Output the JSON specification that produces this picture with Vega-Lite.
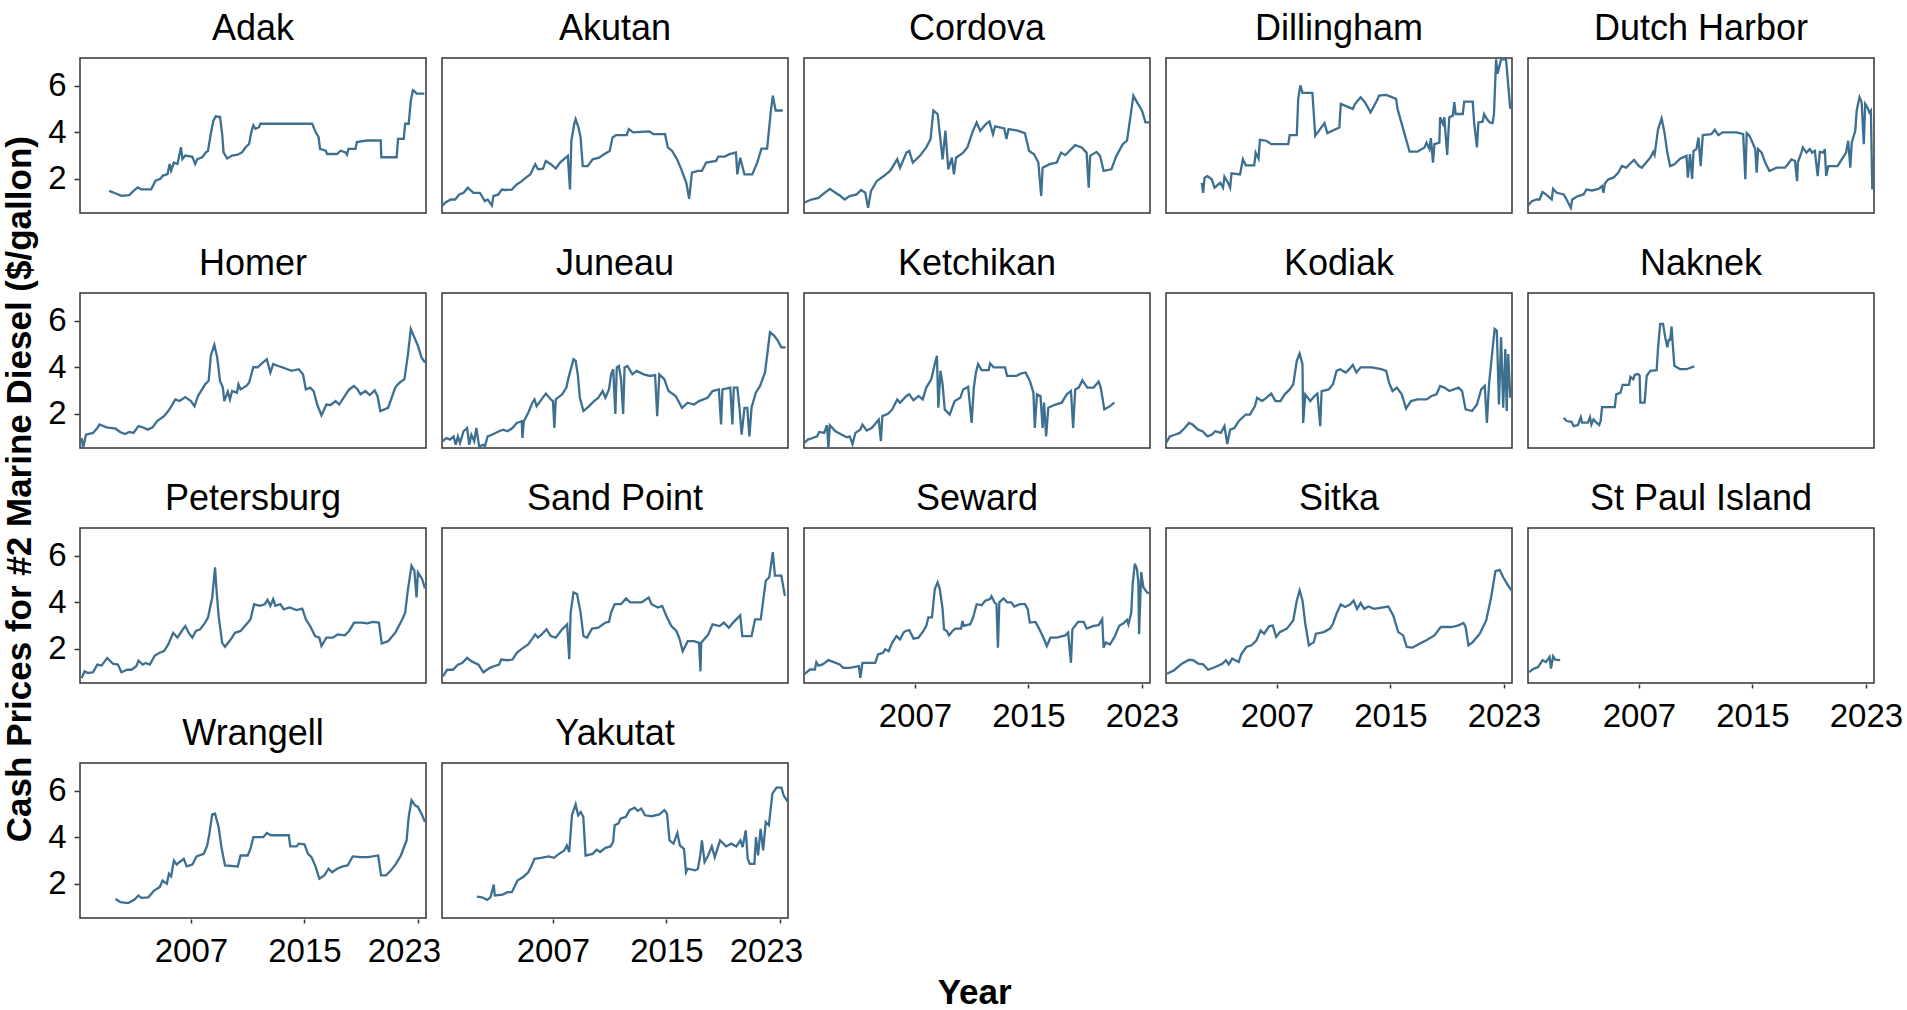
{
"$schema": "https://vega.github.io/schema/vega-lite/v6.json",
"padding": {"left": 2, "top": 10, "right": 0, "bottom": 0},
"background": "white",
"title": {"text": "Year", "orient": "bottom", "anchor": "middle", "font": "Liberation Sans", "fontSize": 35, "fontWeight": "bold", "color": "black", "offset": 8, "dx": 22},
"datasets": {"d": [
{"site":"Adak","year":2001.24,"price":1.48},{"site":"Adak","year":2001.7,"price":1.37},{"site":"Adak","year":2002.1,"price":1.27},{"site":"Adak","year":2002.65,"price":1.3},{"site":"Adak","year":2002.9,"price":1.45},{"site":"Adak","year":2003.25,"price":1.63},{"site":"Adak","year":2003.5,"price":1.55},{"site":"Adak","year":2004.2,"price":1.55},{"site":"Adak","year":2004.5,"price":1.92},{"site":"Adak","year":2004.85,"price":2.0},{"site":"Adak","year":2005.0,"price":2.13},{"site":"Adak","year":2005.35,"price":2.2},{"site":"Adak","year":2005.5,"price":2.64},{"site":"Adak","year":2005.6,"price":2.35},{"site":"Adak","year":2005.8,"price":2.7},{"site":"Adak","year":2006.05,"price":2.64},{"site":"Adak","year":2006.3,"price":3.36},{"site":"Adak","year":2006.4,"price":2.85},{"site":"Adak","year":2006.6,"price":3.0},{"site":"Adak","year":2007.1,"price":2.95},{"site":"Adak","year":2007.3,"price":2.64},{"site":"Adak","year":2007.45,"price":2.85},{"site":"Adak","year":2007.8,"price":2.93},{"site":"Adak","year":2008.05,"price":3.14},{"site":"Adak","year":2008.2,"price":3.2},{"site":"Adak","year":2008.4,"price":3.94},{"site":"Adak","year":2008.58,"price":4.5},{"site":"Adak","year":2008.75,"price":4.69},{"site":"Adak","year":2009.05,"price":4.66},{"site":"Adak","year":2009.2,"price":3.94},{"site":"Adak","year":2009.3,"price":3.14},{"site":"Adak","year":2009.55,"price":2.88},{"site":"Adak","year":2009.9,"price":3.0},{"site":"Adak","year":2010.3,"price":3.04},{"site":"Adak","year":2010.6,"price":3.14},{"site":"Adak","year":2010.85,"price":3.36},{"site":"Adak","year":2011.1,"price":3.5},{"site":"Adak","year":2011.25,"price":4.0},{"site":"Adak","year":2011.4,"price":4.3},{"site":"Adak","year":2011.55,"price":4.15},{"site":"Adak","year":2011.8,"price":4.22},{"site":"Adak","year":2011.9,"price":4.37},{"site":"Adak","year":2013.3,"price":4.37},{"site":"Adak","year":2015.55,"price":4.37},{"site":"Adak","year":2015.8,"price":4.0},{"site":"Adak","year":2016.0,"price":3.79},{"site":"Adak","year":2016.1,"price":3.29},{"site":"Adak","year":2016.5,"price":3.21},{"site":"Adak","year":2016.6,"price":3.07},{"site":"Adak","year":2017.3,"price":3.07},{"site":"Adak","year":2017.55,"price":3.21},{"site":"Adak","year":2017.9,"price":3.14},{"site":"Adak","year":2018.0,"price":3.04},{"site":"Adak","year":2018.1,"price":3.29},{"site":"Adak","year":2018.6,"price":3.29},{"site":"Adak","year":2018.7,"price":3.58},{"site":"Adak","year":2019.4,"price":3.65},{"site":"Adak","year":2020.38,"price":3.65},{"site":"Adak","year":2020.42,"price":2.93},{"site":"Adak","year":2021.5,"price":2.93},{"site":"Adak","year":2021.6,"price":3.72},{"site":"Adak","year":2022.0,"price":3.72},{"site":"Adak","year":2022.1,"price":4.37},{"site":"Adak","year":2022.35,"price":4.37},{"site":"Adak","year":2022.5,"price":5.38},{"site":"Adak","year":2022.65,"price":5.81},{"site":"Adak","year":2022.8,"price":5.74},{"site":"Adak","year":2022.9,"price":5.67},{"site":"Adak","year":2023.45,"price":5.67},
{"site":"Akutan","year":1999.18,"price":0.82},{"site":"Akutan","year":1999.4,"price":0.97},{"site":"Akutan","year":1999.8,"price":1.11},{"site":"Akutan","year":2000.1,"price":1.11},{"site":"Akutan","year":2000.4,"price":1.33},{"site":"Akutan","year":2000.7,"price":1.4},{"site":"Akutan","year":2001.0,"price":1.62},{"site":"Akutan","year":2001.4,"price":1.4},{"site":"Akutan","year":2001.85,"price":1.4},{"site":"Akutan","year":2002.2,"price":1.04},{"site":"Akutan","year":2002.4,"price":1.11},{"site":"Akutan","year":2002.7,"price":0.85},{"site":"Akutan","year":2002.8,"price":1.26},{"site":"Akutan","year":2003.15,"price":1.33},{"site":"Akutan","year":2003.4,"price":1.54},{"site":"Akutan","year":2003.6,"price":1.52},{"site":"Akutan","year":2004.1,"price":1.54},{"site":"Akutan","year":2004.45,"price":1.76},{"site":"Akutan","year":2004.8,"price":1.9},{"site":"Akutan","year":2005.1,"price":2.05},{"site":"Akutan","year":2005.4,"price":2.19},{"site":"Akutan","year":2005.75,"price":2.63},{"site":"Akutan","year":2005.95,"price":2.41},{"site":"Akutan","year":2006.3,"price":2.44},{"site":"Akutan","year":2006.5,"price":2.77},{"site":"Akutan","year":2006.85,"price":2.63},{"site":"Akutan","year":2007.2,"price":2.44},{"site":"Akutan","year":2007.5,"price":2.7},{"site":"Akutan","year":2007.9,"price":2.91},{"site":"Akutan","year":2008.05,"price":2.99},{"site":"Akutan","year":2008.2,"price":1.54},{"site":"Akutan","year":2008.3,"price":3.64},{"site":"Akutan","year":2008.5,"price":4.36},{"site":"Akutan","year":2008.6,"price":4.57},{"site":"Akutan","year":2008.8,"price":4.21},{"site":"Akutan","year":2008.95,"price":3.78},{"site":"Akutan","year":2009.1,"price":2.55},{"site":"Akutan","year":2009.45,"price":2.55},{"site":"Akutan","year":2009.8,"price":2.84},{"site":"Akutan","year":2010.25,"price":2.91},{"site":"Akutan","year":2010.6,"price":3.06},{"site":"Akutan","year":2011.0,"price":3.2},{"site":"Akutan","year":2011.2,"price":3.78},{"site":"Akutan","year":2011.45,"price":3.88},{"site":"Akutan","year":2012.2,"price":3.88},{"site":"Akutan","year":2012.35,"price":4.14},{"site":"Akutan","year":2012.65,"price":4.0},{"site":"Akutan","year":2013.8,"price":4.04},{"site":"Akutan","year":2014.1,"price":3.92},{"site":"Akutan","year":2014.9,"price":3.92},{"site":"Akutan","year":2015.1,"price":3.35},{"site":"Akutan","year":2015.4,"price":3.2},{"site":"Akutan","year":2015.75,"price":2.84},{"site":"Akutan","year":2016.05,"price":2.41},{"site":"Akutan","year":2016.4,"price":1.83},{"site":"Akutan","year":2016.6,"price":1.14},{"site":"Akutan","year":2016.8,"price":2.27},{"site":"Akutan","year":2017.2,"price":2.34},{"site":"Akutan","year":2017.5,"price":2.34},{"site":"Akutan","year":2017.8,"price":2.7},{"site":"Akutan","year":2018.5,"price":2.77},{"site":"Akutan","year":2018.65,"price":2.96},{"site":"Akutan","year":2019.1,"price":2.96},{"site":"Akutan","year":2019.45,"price":3.06},{"site":"Akutan","year":2019.9,"price":3.13},{"site":"Akutan","year":2020.0,"price":2.19},{"site":"Akutan","year":2020.2,"price":2.91},{"site":"Akutan","year":2020.5,"price":2.19},{"site":"Akutan","year":2021.05,"price":2.19},{"site":"Akutan","year":2021.4,"price":2.7},{"site":"Akutan","year":2021.7,"price":3.3},{"site":"Akutan","year":2022.1,"price":3.3},{"site":"Akutan","year":2022.35,"price":4.86},{"site":"Akutan","year":2022.5,"price":5.58},{"site":"Akutan","year":2022.7,"price":4.94},{"site":"Akutan","year":2023.2,"price":4.94},
{"site":"Cordova","year":1999.18,"price":0.97},{"site":"Cordova","year":1999.7,"price":1.11},{"site":"Cordova","year":2000.2,"price":1.18},{"site":"Cordova","year":2000.5,"price":1.33},{"site":"Cordova","year":2001.0,"price":1.57},{"site":"Cordova","year":2001.4,"price":1.4},{"site":"Cordova","year":2001.75,"price":1.26},{"site":"Cordova","year":2002.05,"price":1.11},{"site":"Cordova","year":2002.4,"price":1.26},{"site":"Cordova","year":2002.9,"price":1.33},{"site":"Cordova","year":2003.2,"price":1.52},{"site":"Cordova","year":2003.5,"price":1.4},{"site":"Cordova","year":2003.7,"price":0.75},{"site":"Cordova","year":2003.9,"price":1.47},{"site":"Cordova","year":2004.3,"price":1.9},{"site":"Cordova","year":2004.8,"price":2.12},{"site":"Cordova","year":2005.25,"price":2.34},{"site":"Cordova","year":2005.75,"price":2.84},{"site":"Cordova","year":2005.95,"price":2.48},{"site":"Cordova","year":2006.4,"price":3.13},{"site":"Cordova","year":2006.6,"price":3.2},{"site":"Cordova","year":2006.85,"price":2.7},{"site":"Cordova","year":2007.35,"price":2.99},{"site":"Cordova","year":2007.8,"price":3.35},{"site":"Cordova","year":2008.1,"price":3.71},{"site":"Cordova","year":2008.3,"price":4.94},{"site":"Cordova","year":2008.6,"price":4.79},{"site":"Cordova","year":2008.95,"price":2.84},{"site":"Cordova","year":2009.15,"price":4.07},{"site":"Cordova","year":2009.35,"price":2.41},{"site":"Cordova","year":2009.6,"price":2.91},{"site":"Cordova","year":2009.75,"price":2.19},{"site":"Cordova","year":2009.9,"price":2.91},{"site":"Cordova","year":2010.4,"price":3.13},{"site":"Cordova","year":2010.7,"price":3.35},{"site":"Cordova","year":2011.05,"price":4.0},{"site":"Cordova","year":2011.35,"price":4.43},{"site":"Cordova","year":2011.6,"price":4.07},{"site":"Cordova","year":2012.0,"price":4.36},{"site":"Cordova","year":2012.25,"price":4.47},{"site":"Cordova","year":2012.5,"price":3.92},{"site":"Cordova","year":2012.65,"price":4.26},{"site":"Cordova","year":2013.3,"price":4.17},{"site":"Cordova","year":2013.45,"price":3.71},{"site":"Cordova","year":2013.6,"price":4.14},{"site":"Cordova","year":2014.25,"price":4.07},{"site":"Cordova","year":2014.75,"price":3.97},{"site":"Cordova","year":2015.05,"price":3.2},{"site":"Cordova","year":2015.4,"price":3.06},{"site":"Cordova","year":2015.7,"price":2.7},{"site":"Cordova","year":2015.9,"price":1.26},{"site":"Cordova","year":2016.0,"price":2.48},{"site":"Cordova","year":2016.5,"price":2.63},{"site":"Cordova","year":2017.0,"price":2.7},{"site":"Cordova","year":2017.3,"price":3.13},{"site":"Cordova","year":2017.6,"price":3.02},{"site":"Cordova","year":2018.3,"price":3.45},{"site":"Cordova","year":2018.75,"price":3.35},{"site":"Cordova","year":2019.1,"price":3.13},{"site":"Cordova","year":2019.25,"price":1.62},{"site":"Cordova","year":2019.35,"price":2.99},{"site":"Cordova","year":2019.8,"price":3.16},{"site":"Cordova","year":2020.05,"price":2.99},{"site":"Cordova","year":2020.3,"price":2.34},{"site":"Cordova","year":2020.85,"price":2.41},{"site":"Cordova","year":2021.2,"price":2.99},{"site":"Cordova","year":2021.65,"price":3.49},{"site":"Cordova","year":2021.95,"price":3.64},{"site":"Cordova","year":2022.2,"price":4.72},{"site":"Cordova","year":2022.4,"price":5.58},{"site":"Cordova","year":2022.65,"price":5.3},{"site":"Cordova","year":2023.0,"price":4.94},{"site":"Cordova","year":2023.25,"price":4.43},{"site":"Cordova","year":2023.5,"price":4.43},
{"site":"Dillingham","year":2001.7,"price":1.83},{"site":"Dillingham","year":2001.8,"price":1.4},{"site":"Dillingham","year":2001.9,"price":2.05},{"site":"Dillingham","year":2002.1,"price":2.12},{"site":"Dillingham","year":2002.4,"price":1.98},{"site":"Dillingham","year":2002.6,"price":1.62},{"site":"Dillingham","year":2003.0,"price":1.83},{"site":"Dillingham","year":2003.2,"price":1.62},{"site":"Dillingham","year":2003.3,"price":2.09},{"site":"Dillingham","year":2003.55,"price":1.83},{"site":"Dillingham","year":2003.7,"price":1.62},{"site":"Dillingham","year":2003.8,"price":2.24},{"site":"Dillingham","year":2004.4,"price":2.19},{"site":"Dillingham","year":2004.6,"price":2.84},{"site":"Dillingham","year":2004.8,"price":2.58},{"site":"Dillingham","year":2005.4,"price":2.58},{"site":"Dillingham","year":2005.5,"price":3.13},{"site":"Dillingham","year":2005.7,"price":2.87},{"site":"Dillingham","year":2005.8,"price":3.68},{"site":"Dillingham","year":2006.25,"price":3.64},{"site":"Dillingham","year":2006.6,"price":3.49},{"site":"Dillingham","year":2007.8,"price":3.49},{"site":"Dillingham","year":2007.9,"price":3.88},{"site":"Dillingham","year":2008.4,"price":3.88},{"site":"Dillingham","year":2008.5,"price":5.44},{"site":"Dillingham","year":2008.65,"price":6.02},{"site":"Dillingham","year":2008.8,"price":5.7},{"site":"Dillingham","year":2009.5,"price":5.7},{"site":"Dillingham","year":2009.7,"price":3.85},{"site":"Dillingham","year":2010.35,"price":4.4},{"site":"Dillingham","year":2010.55,"price":3.97},{"site":"Dillingham","year":2011.4,"price":4.21},{"site":"Dillingham","year":2011.5,"price":5.22},{"site":"Dillingham","year":2012.35,"price":5.01},{"site":"Dillingham","year":2012.5,"price":5.22},{"site":"Dillingham","year":2012.9,"price":5.51},{"site":"Dillingham","year":2013.2,"price":5.3},{"site":"Dillingham","year":2013.6,"price":4.86},{"site":"Dillingham","year":2014.05,"price":5.37},{"site":"Dillingham","year":2014.2,"price":5.58},{"site":"Dillingham","year":2014.7,"price":5.61},{"site":"Dillingham","year":2015.4,"price":5.44},{"site":"Dillingham","year":2015.5,"price":5.01},{"site":"Dillingham","year":2016.35,"price":3.17},{"site":"Dillingham","year":2016.9,"price":3.17},{"site":"Dillingham","year":2017.4,"price":3.35},{"site":"Dillingham","year":2017.55,"price":3.56},{"site":"Dillingham","year":2017.75,"price":3.28},{"site":"Dillingham","year":2017.85,"price":3.75},{"site":"Dillingham","year":2018.0,"price":2.7},{"site":"Dillingham","year":2018.1,"price":3.49},{"site":"Dillingham","year":2018.45,"price":3.56},{"site":"Dillingham","year":2018.5,"price":4.65},{"site":"Dillingham","year":2018.7,"price":4.36},{"site":"Dillingham","year":2018.8,"price":4.65},{"site":"Dillingham","year":2019.0,"price":3.03},{"site":"Dillingham","year":2019.15,"price":4.65},{"site":"Dillingham","year":2019.4,"price":4.72},{"site":"Dillingham","year":2019.5,"price":5.3},{"site":"Dillingham","year":2019.6,"price":4.79},{"site":"Dillingham","year":2020.1,"price":4.79},{"site":"Dillingham","year":2020.2,"price":5.32},{"site":"Dillingham","year":2020.8,"price":5.32},{"site":"Dillingham","year":2020.9,"price":4.43},{"site":"Dillingham","year":2021.1,"price":3.35},{"site":"Dillingham","year":2021.2,"price":4.43},{"site":"Dillingham","year":2021.5,"price":4.46},{"site":"Dillingham","year":2021.6,"price":4.79},{"site":"Dillingham","year":2021.8,"price":4.57},{"site":"Dillingham","year":2022.0,"price":4.43},{"site":"Dillingham","year":2022.2,"price":4.4},{"site":"Dillingham","year":2022.3,"price":4.79},{"site":"Dillingham","year":2022.45,"price":7.14},{"site":"Dillingham","year":2022.55,"price":6.52},{"site":"Dillingham","year":2022.8,"price":7.14},{"site":"Dillingham","year":2023.15,"price":7.14},{"site":"Dillingham","year":2023.45,"price":5.01},
{"site":"Dutch Harbor","year":1999.18,"price":0.85},{"site":"Dutch Harbor","year":1999.45,"price":1.04},{"site":"Dutch Harbor","year":1999.8,"price":1.11},{"site":"Dutch Harbor","year":2000.0,"price":1.11},{"site":"Dutch Harbor","year":2000.2,"price":1.43},{"site":"Dutch Harbor","year":2000.45,"price":1.33},{"site":"Dutch Harbor","year":2000.85,"price":1.11},{"site":"Dutch Harbor","year":2000.95,"price":1.57},{"site":"Dutch Harbor","year":2001.2,"price":1.4},{"site":"Dutch Harbor","year":2001.7,"price":1.33},{"site":"Dutch Harbor","year":2001.9,"price":1.11},{"site":"Dutch Harbor","year":2002.2,"price":0.75},{"site":"Dutch Harbor","year":2002.3,"price":1.11},{"site":"Dutch Harbor","year":2002.7,"price":1.26},{"site":"Dutch Harbor","year":2003.1,"price":1.33},{"site":"Dutch Harbor","year":2003.3,"price":1.54},{"site":"Dutch Harbor","year":2003.7,"price":1.5},{"site":"Dutch Harbor","year":2004.15,"price":1.57},{"site":"Dutch Harbor","year":2004.4,"price":1.69},{"site":"Dutch Harbor","year":2004.5,"price":1.4},{"site":"Dutch Harbor","year":2004.6,"price":1.8},{"site":"Dutch Harbor","year":2004.85,"price":1.98},{"site":"Dutch Harbor","year":2005.2,"price":2.05},{"site":"Dutch Harbor","year":2005.55,"price":2.27},{"site":"Dutch Harbor","year":2005.8,"price":2.55},{"site":"Dutch Harbor","year":2006.1,"price":2.48},{"site":"Dutch Harbor","year":2006.4,"price":2.67},{"site":"Dutch Harbor","year":2006.65,"price":2.81},{"site":"Dutch Harbor","year":2007.0,"price":2.55},{"site":"Dutch Harbor","year":2007.2,"price":2.48},{"site":"Dutch Harbor","year":2007.6,"price":2.77},{"site":"Dutch Harbor","year":2007.8,"price":2.91},{"site":"Dutch Harbor","year":2008.0,"price":3.16},{"site":"Dutch Harbor","year":2008.1,"price":3.02},{"site":"Dutch Harbor","year":2008.35,"price":4.14},{"site":"Dutch Harbor","year":2008.6,"price":4.6},{"site":"Dutch Harbor","year":2008.8,"price":4.0},{"site":"Dutch Harbor","year":2009.0,"price":3.13},{"site":"Dutch Harbor","year":2009.2,"price":2.55},{"site":"Dutch Harbor","year":2009.5,"price":2.63},{"site":"Dutch Harbor","year":2009.9,"price":2.87},{"site":"Dutch Harbor","year":2010.35,"price":2.99},{"site":"Dutch Harbor","year":2010.45,"price":2.05},{"site":"Dutch Harbor","year":2010.6,"price":3.06},{"site":"Dutch Harbor","year":2010.75,"price":2.0},{"site":"Dutch Harbor","year":2010.85,"price":3.2},{"site":"Dutch Harbor","year":2011.05,"price":3.28},{"site":"Dutch Harbor","year":2011.2,"price":3.78},{"site":"Dutch Harbor","year":2011.35,"price":2.55},{"site":"Dutch Harbor","year":2011.5,"price":3.88},{"site":"Dutch Harbor","year":2012.1,"price":3.92},{"site":"Dutch Harbor","year":2012.35,"price":4.11},{"site":"Dutch Harbor","year":2012.6,"price":3.88},{"site":"Dutch Harbor","year":2012.9,"price":4.0},{"site":"Dutch Harbor","year":2013.9,"price":4.0},{"site":"Dutch Harbor","year":2014.35,"price":3.92},{"site":"Dutch Harbor","year":2014.5,"price":1.98},{"site":"Dutch Harbor","year":2014.6,"price":3.97},{"site":"Dutch Harbor","year":2014.8,"price":3.85},{"site":"Dutch Harbor","year":2015.2,"price":3.28},{"site":"Dutch Harbor","year":2015.3,"price":2.27},{"site":"Dutch Harbor","year":2015.4,"price":3.28},{"site":"Dutch Harbor","year":2015.65,"price":3.13},{"site":"Dutch Harbor","year":2015.9,"price":2.7},{"site":"Dutch Harbor","year":2016.2,"price":2.34},{"site":"Dutch Harbor","year":2016.7,"price":2.48},{"site":"Dutch Harbor","year":2017.3,"price":2.48},{"site":"Dutch Harbor","year":2017.5,"price":2.63},{"site":"Dutch Harbor","year":2017.75,"price":2.84},{"site":"Dutch Harbor","year":2018.0,"price":2.77},{"site":"Dutch Harbor","year":2018.15,"price":1.9},{"site":"Dutch Harbor","year":2018.2,"price":2.7},{"site":"Dutch Harbor","year":2018.45,"price":3.13},{"site":"Dutch Harbor","year":2018.55,"price":3.35},{"site":"Dutch Harbor","year":2018.8,"price":3.13},{"site":"Dutch Harbor","year":2019.05,"price":3.28},{"site":"Dutch Harbor","year":2019.2,"price":3.13},{"site":"Dutch Harbor","year":2019.4,"price":3.2},{"site":"Dutch Harbor","year":2019.6,"price":2.12},{"site":"Dutch Harbor","year":2019.75,"price":3.16},{"site":"Dutch Harbor","year":2020.0,"price":3.13},{"site":"Dutch Harbor","year":2020.1,"price":3.28},{"site":"Dutch Harbor","year":2020.2,"price":2.12},{"site":"Dutch Harbor","year":2020.35,"price":2.55},{"site":"Dutch Harbor","year":2021.0,"price":2.55},{"site":"Dutch Harbor","year":2021.3,"price":2.84},{"site":"Dutch Harbor","year":2021.6,"price":3.13},{"site":"Dutch Harbor","year":2021.75,"price":3.64},{"site":"Dutch Harbor","year":2021.9,"price":2.48},{"site":"Dutch Harbor","year":2022.0,"price":3.56},{"site":"Dutch Harbor","year":2022.25,"price":4.07},{"site":"Dutch Harbor","year":2022.35,"price":4.94},{"site":"Dutch Harbor","year":2022.55,"price":5.51},{"site":"Dutch Harbor","year":2022.7,"price":5.3},{"site":"Dutch Harbor","year":2022.85,"price":3.49},{"site":"Dutch Harbor","year":2022.95,"price":5.22},{"site":"Dutch Harbor","year":2023.1,"price":5.08},{"site":"Dutch Harbor","year":2023.25,"price":4.86},{"site":"Dutch Harbor","year":2023.35,"price":4.94},{"site":"Dutch Harbor","year":2023.45,"price":1.54},
{"site":"Homer","year":1999.3,"price":0.96},{"site":"Homer","year":1999.4,"price":0.53},{"site":"Homer","year":1999.6,"price":1.1},{"site":"Homer","year":2000.1,"price":1.18},{"site":"Homer","year":2000.4,"price":1.39},{"site":"Homer","year":2000.55,"price":1.54},{"site":"Homer","year":2001.05,"price":1.42},{"site":"Homer","year":2001.7,"price":1.36},{"site":"Homer","year":2002.0,"price":1.22},{"site":"Homer","year":2002.35,"price":1.13},{"site":"Homer","year":2002.65,"price":1.22},{"site":"Homer","year":2002.95,"price":1.18},{"site":"Homer","year":2003.3,"price":1.47},{"site":"Homer","year":2003.6,"price":1.42},{"site":"Homer","year":2003.95,"price":1.32},{"site":"Homer","year":2004.3,"price":1.42},{"site":"Homer","year":2004.6,"price":1.68},{"site":"Homer","year":2005.1,"price":1.9},{"site":"Homer","year":2005.4,"price":2.12},{"site":"Homer","year":2005.55,"price":2.26},{"site":"Homer","year":2005.9,"price":2.62},{"site":"Homer","year":2006.2,"price":2.55},{"site":"Homer","year":2006.6,"price":2.72},{"site":"Homer","year":2007.0,"price":2.55},{"site":"Homer","year":2007.25,"price":2.33},{"site":"Homer","year":2007.5,"price":2.77},{"site":"Homer","year":2008.0,"price":3.27},{"site":"Homer","year":2008.25,"price":3.42},{"site":"Homer","year":2008.4,"price":4.5},{"site":"Homer","year":2008.65,"price":4.97},{"site":"Homer","year":2008.85,"price":4.43},{"site":"Homer","year":2009.05,"price":3.42},{"site":"Homer","year":2009.25,"price":3.13},{"site":"Homer","year":2009.35,"price":2.55},{"site":"Homer","year":2009.6,"price":2.95},{"site":"Homer","year":2009.75,"price":2.62},{"site":"Homer","year":2009.9,"price":2.98},{"site":"Homer","year":2010.25,"price":2.91},{"site":"Homer","year":2010.35,"price":3.27},{"site":"Homer","year":2010.5,"price":3.05},{"site":"Homer","year":2010.9,"price":3.2},{"site":"Homer","year":2011.1,"price":3.34},{"site":"Homer","year":2011.4,"price":4.02},{"site":"Homer","year":2011.7,"price":4.0},{"site":"Homer","year":2012.0,"price":4.17},{"site":"Homer","year":2012.35,"price":4.35},{"site":"Homer","year":2012.6,"price":3.78},{"site":"Homer","year":2012.8,"price":4.14},{"site":"Homer","year":2013.15,"price":4.06},{"site":"Homer","year":2013.45,"price":4.0},{"site":"Homer","year":2013.8,"price":3.92},{"site":"Homer","year":2014.1,"price":3.85},{"site":"Homer","year":2014.6,"price":3.92},{"site":"Homer","year":2014.9,"price":3.7},{"site":"Homer","year":2015.1,"price":3.05},{"site":"Homer","year":2015.4,"price":3.13},{"site":"Homer","year":2015.65,"price":2.98},{"site":"Homer","year":2015.9,"price":2.4},{"site":"Homer","year":2016.2,"price":1.94},{"site":"Homer","year":2016.55,"price":2.4},{"site":"Homer","year":2016.85,"price":2.38},{"site":"Homer","year":2017.2,"price":2.55},{"site":"Homer","year":2017.45,"price":2.4},{"site":"Homer","year":2017.85,"price":2.77},{"site":"Homer","year":2018.15,"price":3.05},{"site":"Homer","year":2018.5,"price":3.2},{"site":"Homer","year":2018.75,"price":3.05},{"site":"Homer","year":2018.95,"price":2.84},{"site":"Homer","year":2019.3,"price":2.98},{"site":"Homer","year":2019.6,"price":2.81},{"site":"Homer","year":2019.95,"price":3.01},{"site":"Homer","year":2020.15,"price":2.77},{"site":"Homer","year":2020.35,"price":2.12},{"site":"Homer","year":2020.9,"price":2.26},{"site":"Homer","year":2021.4,"price":3.13},{"site":"Homer","year":2021.7,"price":3.34},{"site":"Homer","year":2022.05,"price":3.49},{"site":"Homer","year":2022.3,"price":4.57},{"site":"Homer","year":2022.5,"price":5.65},{"site":"Homer","year":2022.75,"price":5.29},{"site":"Homer","year":2023.0,"price":4.93},{"site":"Homer","year":2023.25,"price":4.43},{"site":"Homer","year":2023.5,"price":4.21},
{"site":"Juneau","year":1999.2,"price":0.82},{"site":"Juneau","year":1999.5,"price":0.96},{"site":"Juneau","year":1999.75,"price":0.89},{"site":"Juneau","year":2000.0,"price":1.03},{"site":"Juneau","year":2000.15,"price":0.67},{"site":"Juneau","year":2000.3,"price":1.03},{"site":"Juneau","year":2000.45,"price":0.74},{"site":"Juneau","year":2000.7,"price":1.25},{"site":"Juneau","year":2000.95,"price":1.39},{"site":"Juneau","year":2001.1,"price":0.67},{"site":"Juneau","year":2001.25,"price":1.1},{"site":"Juneau","year":2001.45,"price":0.82},{"site":"Juneau","year":2001.6,"price":1.39},{"site":"Juneau","year":2001.8,"price":0.6},{"site":"Juneau","year":2002.1,"price":0.67},{"site":"Juneau","year":2002.2,"price":0.6},{"site":"Juneau","year":2002.4,"price":1.03},{"site":"Juneau","year":2002.7,"price":1.1},{"site":"Juneau","year":2003.2,"price":1.25},{"site":"Juneau","year":2003.5,"price":1.32},{"site":"Juneau","year":2003.8,"price":1.25},{"site":"Juneau","year":2004.15,"price":1.39},{"site":"Juneau","year":2004.45,"price":1.61},{"site":"Juneau","year":2004.8,"price":1.68},{"site":"Juneau","year":2004.85,"price":0.96},{"site":"Juneau","year":2004.95,"price":1.68},{"site":"Juneau","year":2005.25,"price":2.04},{"site":"Juneau","year":2005.55,"price":2.48},{"site":"Juneau","year":2005.7,"price":2.62},{"site":"Juneau","year":2005.85,"price":2.33},{"site":"Juneau","year":2006.2,"price":2.62},{"site":"Juneau","year":2006.5,"price":2.87},{"site":"Juneau","year":2006.85,"price":2.62},{"site":"Juneau","year":2007.0,"price":2.55},{"site":"Juneau","year":2007.1,"price":1.39},{"site":"Juneau","year":2007.2,"price":2.62},{"site":"Juneau","year":2007.65,"price":2.84},{"site":"Juneau","year":2007.95,"price":3.13},{"site":"Juneau","year":2008.1,"price":3.56},{"site":"Juneau","year":2008.45,"price":4.35},{"site":"Juneau","year":2008.6,"price":4.28},{"site":"Juneau","year":2008.75,"price":3.7},{"site":"Juneau","year":2008.9,"price":2.69},{"site":"Juneau","year":2009.15,"price":2.12},{"site":"Juneau","year":2009.55,"price":2.33},{"site":"Juneau","year":2009.9,"price":2.55},{"site":"Juneau","year":2010.2,"price":2.69},{"site":"Juneau","year":2010.5,"price":2.98},{"site":"Juneau","year":2010.7,"price":2.69},{"site":"Juneau","year":2010.95,"price":3.05},{"site":"Juneau","year":2011.1,"price":3.7},{"site":"Juneau","year":2011.25,"price":3.92},{"site":"Juneau","year":2011.4,"price":2.0},{"site":"Juneau","year":2011.5,"price":4.0},{"site":"Juneau","year":2011.65,"price":4.06},{"site":"Juneau","year":2011.8,"price":3.49},{"site":"Juneau","year":2011.95,"price":2.0},{"site":"Juneau","year":2012.05,"price":4.0},{"site":"Juneau","year":2012.25,"price":4.06},{"site":"Juneau","year":2012.6,"price":3.7},{"site":"Juneau","year":2012.9,"price":3.85},{"site":"Juneau","year":2013.4,"price":3.7},{"site":"Juneau","year":2013.85,"price":3.63},{"site":"Juneau","year":2014.2,"price":3.67},{"site":"Juneau","year":2014.35,"price":1.9},{"site":"Juneau","year":2014.5,"price":3.7},{"site":"Juneau","year":2014.85,"price":3.49},{"site":"Juneau","year":2015.15,"price":2.98},{"site":"Juneau","year":2015.65,"price":2.77},{"site":"Juneau","year":2016.1,"price":2.26},{"site":"Juneau","year":2016.5,"price":2.48},{"site":"Juneau","year":2016.95,"price":2.4},{"site":"Juneau","year":2017.3,"price":2.55},{"site":"Juneau","year":2017.9,"price":2.69},{"site":"Juneau","year":2018.25,"price":2.98},{"site":"Juneau","year":2018.7,"price":3.05},{"site":"Juneau","year":2018.85,"price":1.54},{"site":"Juneau","year":2018.95,"price":3.05},{"site":"Juneau","year":2019.5,"price":3.13},{"site":"Juneau","year":2019.65,"price":1.54},{"site":"Juneau","year":2019.75,"price":3.13},{"site":"Juneau","year":2020.0,"price":3.13},{"site":"Juneau","year":2020.15,"price":2.26},{"site":"Juneau","year":2020.3,"price":1.1},{"site":"Juneau","year":2020.5,"price":2.26},{"site":"Juneau","year":2020.7,"price":2.26},{"site":"Juneau","year":2020.85,"price":1.03},{"site":"Juneau","year":2021.0,"price":2.26},{"site":"Juneau","year":2021.3,"price":2.91},{"site":"Juneau","year":2021.6,"price":3.2},{"site":"Juneau","year":2021.95,"price":3.78},{"site":"Juneau","year":2022.3,"price":5.51},{"site":"Juneau","year":2022.6,"price":5.36},{"site":"Juneau","year":2022.85,"price":5.15},{"site":"Juneau","year":2023.1,"price":4.86},{"site":"Juneau","year":2023.4,"price":4.86},
{"site":"Ketchikan","year":1999.18,"price":0.74},{"site":"Ketchikan","year":1999.45,"price":0.89},{"site":"Ketchikan","year":1999.8,"price":0.96},{"site":"Ketchikan","year":2000.1,"price":1.03},{"site":"Ketchikan","year":2000.25,"price":1.22},{"site":"Ketchikan","year":2000.6,"price":1.18},{"site":"Ketchikan","year":2000.8,"price":1.51},{"site":"Ketchikan","year":2000.9,"price":0.53},{"site":"Ketchikan","year":2001.0,"price":1.51},{"site":"Ketchikan","year":2001.4,"price":1.25},{"site":"Ketchikan","year":2001.85,"price":1.1},{"site":"Ketchikan","year":2002.2,"price":0.99},{"site":"Ketchikan","year":2002.4,"price":1.03},{"site":"Ketchikan","year":2002.6,"price":0.7},{"site":"Ketchikan","year":2002.8,"price":1.18},{"site":"Ketchikan","year":2003.15,"price":1.32},{"site":"Ketchikan","year":2003.3,"price":1.54},{"site":"Ketchikan","year":2003.6,"price":1.28},{"site":"Ketchikan","year":2003.95,"price":1.39},{"site":"Ketchikan","year":2004.45,"price":1.75},{"site":"Ketchikan","year":2004.6,"price":0.82},{"site":"Ketchikan","year":2004.7,"price":1.9},{"site":"Ketchikan","year":2005.1,"price":2.0},{"site":"Ketchikan","year":2005.4,"price":2.19},{"site":"Ketchikan","year":2005.75,"price":2.62},{"site":"Ketchikan","year":2005.95,"price":2.48},{"site":"Ketchikan","year":2006.4,"price":2.77},{"site":"Ketchikan","year":2006.6,"price":2.84},{"site":"Ketchikan","year":2006.9,"price":2.58},{"site":"Ketchikan","year":2007.25,"price":2.77},{"site":"Ketchikan","year":2007.55,"price":2.62},{"site":"Ketchikan","year":2007.8,"price":3.13},{"site":"Ketchikan","year":2008.15,"price":3.49},{"site":"Ketchikan","year":2008.4,"price":4.14},{"site":"Ketchikan","year":2008.55,"price":4.5},{"site":"Ketchikan","year":2008.65,"price":2.26},{"site":"Ketchikan","year":2008.8,"price":3.85},{"site":"Ketchikan","year":2008.95,"price":3.27},{"site":"Ketchikan","year":2009.1,"price":2.19},{"site":"Ketchikan","year":2009.45,"price":1.97},{"site":"Ketchikan","year":2009.8,"price":2.55},{"site":"Ketchikan","year":2010.2,"price":2.69},{"site":"Ketchikan","year":2010.4,"price":3.05},{"site":"Ketchikan","year":2010.75,"price":3.16},{"site":"Ketchikan","year":2011.0,"price":1.61},{"site":"Ketchikan","year":2011.15,"price":3.13},{"site":"Ketchikan","year":2011.3,"price":3.78},{"site":"Ketchikan","year":2011.45,"price":4.14},{"site":"Ketchikan","year":2011.7,"price":3.88},{"site":"Ketchikan","year":2012.2,"price":3.88},{"site":"Ketchikan","year":2012.3,"price":4.17},{"site":"Ketchikan","year":2012.55,"price":4.0},{"site":"Ketchikan","year":2013.35,"price":4.0},{"site":"Ketchikan","year":2013.5,"price":3.63},{"site":"Ketchikan","year":2014.15,"price":3.63},{"site":"Ketchikan","year":2014.45,"price":3.73},{"site":"Ketchikan","year":2014.8,"price":3.78},{"site":"Ketchikan","year":2015.1,"price":3.42},{"site":"Ketchikan","year":2015.35,"price":2.91},{"site":"Ketchikan","year":2015.45,"price":1.39},{"site":"Ketchikan","year":2015.6,"price":2.84},{"site":"Ketchikan","year":2015.85,"price":2.77},{"site":"Ketchikan","year":2016.0,"price":1.39},{"site":"Ketchikan","year":2016.1,"price":2.48},{"site":"Ketchikan","year":2016.25,"price":1.03},{"site":"Ketchikan","year":2016.4,"price":2.26},{"site":"Ketchikan","year":2016.9,"price":2.4},{"site":"Ketchikan","year":2017.35,"price":2.48},{"site":"Ketchikan","year":2017.7,"price":2.84},{"site":"Ketchikan","year":2018.0,"price":2.98},{"site":"Ketchikan","year":2018.15,"price":1.39},{"site":"Ketchikan","year":2018.3,"price":3.05},{"site":"Ketchikan","year":2018.55,"price":3.13},{"site":"Ketchikan","year":2018.8,"price":3.44},{"site":"Ketchikan","year":2019.15,"price":3.13},{"site":"Ketchikan","year":2019.6,"price":3.13},{"site":"Ketchikan","year":2019.95,"price":3.39},{"site":"Ketchikan","year":2020.1,"price":3.13},{"site":"Ketchikan","year":2020.35,"price":2.19},{"site":"Ketchikan","year":2020.75,"price":2.33},{"site":"Ketchikan","year":2021.05,"price":2.48},
{"site":"Kodiak","year":1999.18,"price":0.74},{"site":"Kodiak","year":1999.45,"price":1.03},{"site":"Kodiak","year":1999.8,"price":1.1},{"site":"Kodiak","year":2000.15,"price":1.18},{"site":"Kodiak","year":2000.5,"price":1.39},{"site":"Kodiak","year":2000.8,"price":1.61},{"site":"Kodiak","year":2001.05,"price":1.54},{"site":"Kodiak","year":2001.45,"price":1.32},{"site":"Kodiak","year":2001.75,"price":1.25},{"site":"Kodiak","year":2002.1,"price":1.03},{"site":"Kodiak","year":2002.4,"price":1.1},{"site":"Kodiak","year":2002.65,"price":1.25},{"site":"Kodiak","year":2003.05,"price":1.18},{"site":"Kodiak","year":2003.3,"price":1.47},{"site":"Kodiak","year":2003.5,"price":0.7},{"site":"Kodiak","year":2003.7,"price":1.32},{"site":"Kodiak","year":2004.0,"price":1.39},{"site":"Kodiak","year":2004.3,"price":1.68},{"site":"Kodiak","year":2004.8,"price":1.97},{"site":"Kodiak","year":2005.1,"price":1.97},{"site":"Kodiak","year":2005.45,"price":2.33},{"site":"Kodiak","year":2005.6,"price":2.69},{"site":"Kodiak","year":2005.95,"price":2.55},{"site":"Kodiak","year":2006.25,"price":2.69},{"site":"Kodiak","year":2006.6,"price":2.87},{"site":"Kodiak","year":2006.9,"price":2.55},{"site":"Kodiak","year":2007.25,"price":2.55},{"site":"Kodiak","year":2007.55,"price":2.84},{"site":"Kodiak","year":2007.9,"price":3.05},{"site":"Kodiak","year":2008.15,"price":3.27},{"site":"Kodiak","year":2008.4,"price":4.28},{"site":"Kodiak","year":2008.6,"price":4.6},{"site":"Kodiak","year":2008.8,"price":4.14},{"site":"Kodiak","year":2008.85,"price":1.61},{"site":"Kodiak","year":2009.0,"price":2.84},{"site":"Kodiak","year":2009.35,"price":2.55},{"site":"Kodiak","year":2009.65,"price":2.77},{"site":"Kodiak","year":2009.85,"price":2.87},{"site":"Kodiak","year":2010.05,"price":1.47},{"site":"Kodiak","year":2010.15,"price":2.98},{"site":"Kodiak","year":2010.65,"price":3.05},{"site":"Kodiak","year":2010.95,"price":3.27},{"site":"Kodiak","year":2011.2,"price":3.85},{"site":"Kodiak","year":2011.45,"price":3.92},{"site":"Kodiak","year":2011.85,"price":3.78},{"site":"Kodiak","year":2012.1,"price":3.92},{"site":"Kodiak","year":2012.35,"price":4.11},{"site":"Kodiak","year":2012.6,"price":3.78},{"site":"Kodiak","year":2012.9,"price":4.0},{"site":"Kodiak","year":2013.7,"price":4.0},{"site":"Kodiak","year":2014.35,"price":3.92},{"site":"Kodiak","year":2014.7,"price":3.85},{"site":"Kodiak","year":2014.9,"price":3.34},{"site":"Kodiak","year":2015.15,"price":2.98},{"site":"Kodiak","year":2015.45,"price":3.13},{"site":"Kodiak","year":2015.8,"price":2.84},{"site":"Kodiak","year":2016.1,"price":2.23},{"site":"Kodiak","year":2016.45,"price":2.55},{"site":"Kodiak","year":2016.9,"price":2.62},{"site":"Kodiak","year":2017.55,"price":2.62},{"site":"Kodiak","year":2017.9,"price":2.77},{"site":"Kodiak","year":2018.25,"price":2.84},{"site":"Kodiak","year":2018.5,"price":3.2},{"site":"Kodiak","year":2018.8,"price":3.13},{"site":"Kodiak","year":2019.15,"price":2.98},{"site":"Kodiak","year":2019.8,"price":3.13},{"site":"Kodiak","year":2020.05,"price":2.98},{"site":"Kodiak","year":2020.3,"price":2.19},{"site":"Kodiak","year":2020.75,"price":2.12},{"site":"Kodiak","year":2021.1,"price":2.4},{"site":"Kodiak","year":2021.4,"price":3.05},{"site":"Kodiak","year":2021.65,"price":3.2},{"site":"Kodiak","year":2021.8,"price":1.61},{"site":"Kodiak","year":2021.95,"price":3.27},{"site":"Kodiak","year":2022.2,"price":4.79},{"site":"Kodiak","year":2022.35,"price":5.65},{"site":"Kodiak","year":2022.5,"price":5.58},{"site":"Kodiak","year":2022.65,"price":2.4},{"site":"Kodiak","year":2022.8,"price":5.29},{"site":"Kodiak","year":2022.95,"price":2.26},{"site":"Kodiak","year":2023.1,"price":4.79},{"site":"Kodiak","year":2023.2,"price":2.12},{"site":"Kodiak","year":2023.3,"price":4.57},{"site":"Kodiak","year":2023.45,"price":2.69},
{"site":"Naknek","year":2001.7,"price":1.83},{"site":"Naknek","year":2001.9,"price":1.69},{"site":"Naknek","year":2002.25,"price":1.66},{"site":"Naknek","year":2002.4,"price":1.47},{"site":"Naknek","year":2002.7,"price":1.52},{"site":"Naknek","year":2002.9,"price":1.86},{"site":"Naknek","year":2003.0,"price":1.62},{"site":"Naknek","year":2003.4,"price":1.62},{"site":"Naknek","year":2003.55,"price":1.86},{"site":"Naknek","year":2003.65,"price":1.54},{"site":"Naknek","year":2003.8,"price":1.76},{"site":"Naknek","year":2004.0,"price":1.62},{"site":"Naknek","year":2004.2,"price":1.52},{"site":"Naknek","year":2004.3,"price":1.69},{"site":"Naknek","year":2004.4,"price":2.29},{"site":"Naknek","year":2005.3,"price":2.29},{"site":"Naknek","year":2005.4,"price":2.84},{"site":"Naknek","year":2005.7,"price":2.91},{"site":"Naknek","year":2005.85,"price":3.25},{"site":"Naknek","year":2006.3,"price":3.25},{"site":"Naknek","year":2006.4,"price":3.59},{"site":"Naknek","year":2006.6,"price":3.49},{"site":"Naknek","year":2006.7,"price":3.68},{"site":"Naknek","year":2006.95,"price":3.71},{"site":"Naknek","year":2007.05,"price":3.64},{"site":"Naknek","year":2007.1,"price":2.48},{"site":"Naknek","year":2007.4,"price":2.48},{"site":"Naknek","year":2007.55,"price":3.64},{"site":"Naknek","year":2007.8,"price":3.85},{"site":"Naknek","year":2008.25,"price":3.88},{"site":"Naknek","year":2008.35,"price":4.86},{"site":"Naknek","year":2008.5,"price":5.87},{"site":"Naknek","year":2008.7,"price":5.87},{"site":"Naknek","year":2008.85,"price":5.3},{"site":"Naknek","year":2009.0,"price":4.86},{"site":"Naknek","year":2009.1,"price":5.18},{"site":"Naknek","year":2009.2,"price":5.18},{"site":"Naknek","year":2009.3,"price":5.76},{"site":"Naknek","year":2009.4,"price":4.86},{"site":"Naknek","year":2009.5,"price":4.07},{"site":"Naknek","year":2009.9,"price":3.92},{"site":"Naknek","year":2010.35,"price":3.92},{"site":"Naknek","year":2010.9,"price":4.04},
{"site":"Petersburg","year":1999.3,"price":0.74},{"site":"Petersburg","year":1999.5,"price":1.03},{"site":"Petersburg","year":1999.75,"price":0.96},{"site":"Petersburg","year":2000.1,"price":0.99},{"site":"Petersburg","year":2000.4,"price":1.32},{"site":"Petersburg","year":2000.7,"price":1.28},{"site":"Petersburg","year":2001.1,"price":1.61},{"site":"Petersburg","year":2001.5,"price":1.36},{"site":"Petersburg","year":2001.85,"price":1.32},{"site":"Petersburg","year":2002.1,"price":0.99},{"site":"Petersburg","year":2002.5,"price":1.1},{"site":"Petersburg","year":2002.8,"price":1.1},{"site":"Petersburg","year":2003.15,"price":1.25},{"site":"Petersburg","year":2003.3,"price":1.49},{"site":"Petersburg","year":2003.6,"price":1.32},{"site":"Petersburg","year":2003.8,"price":1.39},{"site":"Petersburg","year":2004.1,"price":1.32},{"site":"Petersburg","year":2004.45,"price":1.71},{"site":"Petersburg","year":2004.8,"price":1.83},{"site":"Petersburg","year":2005.1,"price":1.9},{"site":"Petersburg","year":2005.4,"price":2.19},{"site":"Petersburg","year":2005.75,"price":2.69},{"site":"Petersburg","year":2006.05,"price":2.48},{"site":"Petersburg","year":2006.4,"price":2.81},{"site":"Petersburg","year":2006.6,"price":2.98},{"site":"Petersburg","year":2006.85,"price":2.69},{"site":"Petersburg","year":2007.1,"price":2.48},{"site":"Petersburg","year":2007.35,"price":2.77},{"site":"Petersburg","year":2007.65,"price":2.84},{"site":"Petersburg","year":2008.0,"price":3.13},{"site":"Petersburg","year":2008.2,"price":3.34},{"site":"Petersburg","year":2008.5,"price":4.21},{"site":"Petersburg","year":2008.7,"price":5.51},{"site":"Petersburg","year":2008.8,"price":4.57},{"site":"Petersburg","year":2008.95,"price":3.42},{"site":"Petersburg","year":2009.2,"price":2.26},{"site":"Petersburg","year":2009.4,"price":2.09},{"site":"Petersburg","year":2009.8,"price":2.4},{"site":"Petersburg","year":2010.1,"price":2.69},{"site":"Petersburg","year":2010.5,"price":2.77},{"site":"Petersburg","year":2010.8,"price":2.98},{"site":"Petersburg","year":2011.05,"price":3.16},{"site":"Petersburg","year":2011.2,"price":3.27},{"site":"Petersburg","year":2011.45,"price":3.92},{"site":"Petersburg","year":2011.85,"price":3.85},{"site":"Petersburg","year":2012.2,"price":3.92},{"site":"Petersburg","year":2012.4,"price":4.11},{"site":"Petersburg","year":2012.6,"price":3.85},{"site":"Petersburg","year":2012.8,"price":4.14},{"site":"Petersburg","year":2012.95,"price":3.85},{"site":"Petersburg","year":2013.3,"price":3.92},{"site":"Petersburg","year":2013.55,"price":3.7},{"site":"Petersburg","year":2013.95,"price":3.78},{"site":"Petersburg","year":2014.45,"price":3.67},{"site":"Petersburg","year":2014.85,"price":3.73},{"site":"Petersburg","year":2015.1,"price":3.27},{"site":"Petersburg","year":2015.4,"price":2.98},{"site":"Petersburg","year":2015.75,"price":2.55},{"site":"Petersburg","year":2016.05,"price":2.48},{"site":"Petersburg","year":2016.2,"price":2.12},{"site":"Petersburg","year":2016.55,"price":2.48},{"site":"Petersburg","year":2017.0,"price":2.48},{"site":"Petersburg","year":2017.35,"price":2.62},{"site":"Petersburg","year":2017.85,"price":2.58},{"site":"Petersburg","year":2018.15,"price":2.77},{"site":"Petersburg","year":2018.5,"price":3.13},{"site":"Petersburg","year":2019.0,"price":3.13},{"site":"Petersburg","year":2019.45,"price":3.1},{"site":"Petersburg","year":2019.8,"price":3.16},{"site":"Petersburg","year":2020.25,"price":3.13},{"site":"Petersburg","year":2020.45,"price":2.23},{"site":"Petersburg","year":2020.9,"price":2.33},{"site":"Petersburg","year":2021.4,"price":2.69},{"site":"Petersburg","year":2021.9,"price":3.27},{"site":"Petersburg","year":2022.1,"price":3.56},{"site":"Petersburg","year":2022.3,"price":4.57},{"site":"Petersburg","year":2022.55,"price":5.58},{"site":"Petersburg","year":2022.75,"price":5.36},{"site":"Petersburg","year":2022.9,"price":4.21},{"site":"Petersburg","year":2023.0,"price":5.29},{"site":"Petersburg","year":2023.3,"price":5.0},{"site":"Petersburg","year":2023.5,"price":4.6},
{"site":"Sand Point","year":1999.24,"price":0.82},{"site":"Sand Point","year":1999.55,"price":1.1},{"site":"Sand Point","year":1999.95,"price":1.1},{"site":"Sand Point","year":2000.3,"price":1.32},{"site":"Sand Point","year":2000.6,"price":1.39},{"site":"Sand Point","year":2000.95,"price":1.61},{"site":"Sand Point","year":2001.25,"price":1.47},{"site":"Sand Point","year":2001.75,"price":1.32},{"site":"Sand Point","year":2002.1,"price":0.99},{"site":"Sand Point","year":2002.55,"price":1.18},{"site":"Sand Point","year":2002.85,"price":1.25},{"site":"Sand Point","year":2003.2,"price":1.32},{"site":"Sand Point","year":2003.35,"price":1.54},{"site":"Sand Point","year":2003.8,"price":1.51},{"site":"Sand Point","year":2004.15,"price":1.54},{"site":"Sand Point","year":2004.45,"price":1.83},{"site":"Sand Point","year":2004.8,"price":2.0},{"site":"Sand Point","year":2005.25,"price":2.19},{"site":"Sand Point","year":2005.6,"price":2.48},{"site":"Sand Point","year":2005.75,"price":2.62},{"site":"Sand Point","year":2005.95,"price":2.48},{"site":"Sand Point","year":2006.2,"price":2.62},{"site":"Sand Point","year":2006.55,"price":2.84},{"site":"Sand Point","year":2006.85,"price":2.55},{"site":"Sand Point","year":2007.2,"price":2.48},{"site":"Sand Point","year":2007.65,"price":2.84},{"site":"Sand Point","year":2008.0,"price":3.05},{"site":"Sand Point","year":2008.15,"price":1.56},{"site":"Sand Point","year":2008.25,"price":3.56},{"site":"Sand Point","year":2008.45,"price":4.43},{"site":"Sand Point","year":2008.7,"price":4.36},{"site":"Sand Point","year":2008.95,"price":3.56},{"site":"Sand Point","year":2009.15,"price":2.55},{"site":"Sand Point","year":2009.4,"price":2.48},{"site":"Sand Point","year":2009.75,"price":2.87},{"site":"Sand Point","year":2010.2,"price":2.91},{"site":"Sand Point","year":2010.7,"price":3.13},{"site":"Sand Point","year":2010.95,"price":3.16},{"site":"Sand Point","year":2011.1,"price":3.56},{"site":"Sand Point","year":2011.35,"price":3.92},{"site":"Sand Point","year":2011.8,"price":3.92},{"site":"Sand Point","year":2012.15,"price":4.17},{"site":"Sand Point","year":2012.45,"price":4.0},{"site":"Sand Point","year":2013.25,"price":4.0},{"site":"Sand Point","year":2013.75,"price":4.21},{"site":"Sand Point","year":2013.95,"price":3.92},{"site":"Sand Point","year":2014.4,"price":3.78},{"site":"Sand Point","year":2014.7,"price":3.85},{"site":"Sand Point","year":2015.05,"price":3.34},{"site":"Sand Point","year":2015.35,"price":2.98},{"site":"Sand Point","year":2015.7,"price":2.77},{"site":"Sand Point","year":2015.9,"price":2.48},{"site":"Sand Point","year":2016.15,"price":1.9},{"site":"Sand Point","year":2016.5,"price":2.33},{"site":"Sand Point","year":2016.95,"price":2.33},{"site":"Sand Point","year":2017.3,"price":2.26},{"site":"Sand Point","year":2017.4,"price":1.03},{"site":"Sand Point","year":2017.45,"price":2.26},{"site":"Sand Point","year":2017.95,"price":2.62},{"site":"Sand Point","year":2018.25,"price":3.05},{"site":"Sand Point","year":2018.75,"price":2.98},{"site":"Sand Point","year":2019.05,"price":3.13},{"site":"Sand Point","year":2019.4,"price":2.91},{"site":"Sand Point","year":2019.7,"price":3.13},{"site":"Sand Point","year":2020.2,"price":3.44},{"site":"Sand Point","year":2020.35,"price":2.55},{"site":"Sand Point","year":2021.0,"price":2.55},{"site":"Sand Point","year":2021.25,"price":3.27},{"site":"Sand Point","year":2021.65,"price":3.27},{"site":"Sand Point","year":2022.0,"price":4.93},{"site":"Sand Point","year":2022.25,"price":5.08},{"site":"Sand Point","year":2022.5,"price":6.16},{"site":"Sand Point","year":2022.65,"price":5.15},{"site":"Sand Point","year":2023.1,"price":5.15},{"site":"Sand Point","year":2023.35,"price":4.28},
{"site":"Seward","year":1999.16,"price":0.89},{"site":"Seward","year":1999.6,"price":1.11},{"site":"Seward","year":1999.95,"price":1.11},{"site":"Seward","year":2000.05,"price":1.43},{"site":"Seward","year":2000.2,"price":1.28},{"site":"Seward","year":2000.5,"price":1.33},{"site":"Seward","year":2000.9,"price":1.52},{"site":"Seward","year":2001.1,"price":1.47},{"site":"Seward","year":2001.7,"price":1.33},{"site":"Seward","year":2001.95,"price":1.18},{"site":"Seward","year":2002.4,"price":1.18},{"site":"Seward","year":2003.05,"price":1.26},{"site":"Seward","year":2003.15,"price":0.75},{"site":"Seward","year":2003.3,"price":1.4},{"site":"Seward","year":2004.2,"price":1.4},{"site":"Seward","year":2004.4,"price":1.76},{"site":"Seward","year":2004.75,"price":1.83},{"site":"Seward","year":2004.9,"price":1.98},{"site":"Seward","year":2005.15,"price":1.9},{"site":"Seward","year":2005.4,"price":2.27},{"site":"Seward","year":2005.7,"price":2.55},{"site":"Seward","year":2005.95,"price":2.41},{"site":"Seward","year":2006.2,"price":2.7},{"site":"Seward","year":2006.35,"price":2.77},{"site":"Seward","year":2006.6,"price":2.81},{"site":"Seward","year":2006.9,"price":2.44},{"site":"Seward","year":2007.25,"price":2.48},{"site":"Seward","year":2007.6,"price":2.77},{"site":"Seward","year":2007.8,"price":2.99},{"site":"Seward","year":2007.95,"price":3.35},{"site":"Seward","year":2008.2,"price":3.35},{"site":"Seward","year":2008.4,"price":4.57},{"site":"Seward","year":2008.6,"price":4.86},{"site":"Seward","year":2008.75,"price":4.57},{"site":"Seward","year":2008.95,"price":3.71},{"site":"Seward","year":2009.05,"price":2.84},{"site":"Seward","year":2009.25,"price":2.77},{"site":"Seward","year":2009.4,"price":2.58},{"site":"Seward","year":2009.65,"price":2.77},{"site":"Seward","year":2009.85,"price":2.87},{"site":"Seward","year":2010.25,"price":2.87},{"site":"Seward","year":2010.35,"price":3.2},{"site":"Seward","year":2010.45,"price":2.99},{"site":"Seward","year":2010.9,"price":3.06},{"site":"Seward","year":2011.1,"price":3.35},{"site":"Seward","year":2011.35,"price":3.92},{"site":"Seward","year":2011.7,"price":3.88},{"site":"Seward","year":2011.95,"price":4.07},{"site":"Seward","year":2012.3,"price":4.14},{"site":"Seward","year":2012.4,"price":4.26},{"site":"Seward","year":2012.6,"price":4.0},{"site":"Seward","year":2012.75,"price":3.92},{"site":"Seward","year":2012.85,"price":2.05},{"site":"Seward","year":2012.95,"price":4.0},{"site":"Seward","year":2013.25,"price":4.17},{"site":"Seward","year":2013.5,"price":4.0},{"site":"Seward","year":2013.8,"price":4.0},{"site":"Seward","year":2014.0,"price":3.82},{"site":"Seward","year":2014.4,"price":3.92},{"site":"Seward","year":2014.75,"price":3.92},{"site":"Seward","year":2014.95,"price":3.71},{"site":"Seward","year":2015.1,"price":3.13},{"site":"Seward","year":2015.5,"price":3.16},{"site":"Seward","year":2015.75,"price":2.87},{"site":"Seward","year":2016.0,"price":2.55},{"site":"Seward","year":2016.3,"price":2.12},{"site":"Seward","year":2016.55,"price":2.48},{"site":"Seward","year":2017.0,"price":2.48},{"site":"Seward","year":2017.6,"price":2.58},{"site":"Seward","year":2017.8,"price":2.7},{"site":"Seward","year":2018.0,"price":1.4},{"site":"Seward","year":2018.1,"price":2.84},{"site":"Seward","year":2018.5,"price":3.16},{"site":"Seward","year":2018.9,"price":3.16},{"site":"Seward","year":2019.1,"price":2.87},{"site":"Seward","year":2019.6,"price":2.99},{"site":"Seward","year":2019.95,"price":3.02},{"site":"Seward","year":2020.2,"price":3.28},{"site":"Seward","year":2020.3,"price":2.05},{"site":"Seward","year":2020.45,"price":2.27},{"site":"Seward","year":2020.75,"price":2.19},{"site":"Seward","year":2021.1,"price":2.55},{"site":"Seward","year":2021.4,"price":2.99},{"site":"Seward","year":2021.7,"price":3.1},{"site":"Seward","year":2021.95,"price":3.25},{"site":"Seward","year":2022.05,"price":3.06},{"site":"Seward","year":2022.25,"price":3.56},{"site":"Seward","year":2022.35,"price":4.79},{"site":"Seward","year":2022.5,"price":5.66},{"site":"Seward","year":2022.65,"price":5.44},{"site":"Seward","year":2022.75,"price":4.86},{"site":"Seward","year":2022.8,"price":2.63},{"site":"Seward","year":2022.95,"price":5.3},{"site":"Seward","year":2023.1,"price":4.65},{"site":"Seward","year":2023.35,"price":4.43},{"site":"Seward","year":2023.5,"price":4.4},
{"site":"Sitka","year":1999.25,"price":0.93},{"site":"Sitka","year":1999.75,"price":1.08},{"site":"Sitka","year":2000.3,"price":1.36},{"site":"Sitka","year":2000.8,"price":1.53},{"site":"Sitka","year":2001.1,"price":1.51},{"site":"Sitka","year":2001.45,"price":1.36},{"site":"Sitka","year":2001.8,"price":1.33},{"site":"Sitka","year":2002.15,"price":1.1},{"site":"Sitka","year":2002.65,"price":1.22},{"site":"Sitka","year":2003.15,"price":1.36},{"site":"Sitka","year":2003.4,"price":1.51},{"site":"Sitka","year":2003.6,"price":1.33},{"site":"Sitka","year":2003.85,"price":1.58},{"site":"Sitka","year":2004.3,"price":1.43},{"site":"Sitka","year":2004.5,"price":1.79},{"site":"Sitka","year":2004.85,"price":2.08},{"site":"Sitka","year":2005.2,"price":2.15},{"site":"Sitka","year":2005.55,"price":2.36},{"site":"Sitka","year":2005.85,"price":2.79},{"site":"Sitka","year":2006.1,"price":2.65},{"site":"Sitka","year":2006.45,"price":2.97},{"site":"Sitka","year":2006.7,"price":3.01},{"site":"Sitka","year":2006.95,"price":2.51},{"site":"Sitka","year":2007.2,"price":2.72},{"site":"Sitka","year":2007.7,"price":2.87},{"site":"Sitka","year":2008.15,"price":3.22},{"site":"Sitka","year":2008.4,"price":4.08},{"site":"Sitka","year":2008.6,"price":4.51},{"site":"Sitka","year":2008.8,"price":4.08},{"site":"Sitka","year":2009.0,"price":3.08},{"site":"Sitka","year":2009.25,"price":2.15},{"site":"Sitka","year":2009.6,"price":2.29},{"site":"Sitka","year":2009.75,"price":2.65},{"site":"Sitka","year":2010.3,"price":2.72},{"site":"Sitka","year":2010.75,"price":2.87},{"site":"Sitka","year":2010.95,"price":3.08},{"site":"Sitka","year":2011.2,"price":3.51},{"site":"Sitka","year":2011.5,"price":3.91},{"site":"Sitka","year":2011.8,"price":3.8},{"site":"Sitka","year":2012.15,"price":3.91},{"site":"Sitka","year":2012.4,"price":4.08},{"site":"Sitka","year":2012.65,"price":3.72},{"site":"Sitka","year":2012.9,"price":3.97},{"site":"Sitka","year":2013.15,"price":3.72},{"site":"Sitka","year":2013.45,"price":3.82},{"site":"Sitka","year":2013.85,"price":3.72},{"site":"Sitka","year":2014.85,"price":3.82},{"site":"Sitka","year":2015.2,"price":3.44},{"site":"Sitka","year":2015.55,"price":2.72},{"site":"Sitka","year":2015.9,"price":2.58},{"site":"Sitka","year":2016.15,"price":2.08},{"site":"Sitka","year":2016.55,"price":2.05},{"site":"Sitka","year":2017.05,"price":2.22},{"site":"Sitka","year":2017.6,"price":2.39},{"site":"Sitka","year":2018.1,"price":2.58},{"site":"Sitka","year":2018.55,"price":2.94},{"site":"Sitka","year":2019.3,"price":2.94},{"site":"Sitka","year":2019.8,"price":3.01},{"site":"Sitka","year":2020.15,"price":3.11},{"site":"Sitka","year":2020.3,"price":2.94},{"site":"Sitka","year":2020.5,"price":2.15},{"site":"Sitka","year":2020.8,"price":2.29},{"site":"Sitka","year":2021.3,"price":2.65},{"site":"Sitka","year":2021.75,"price":3.22},{"site":"Sitka","year":2022.1,"price":4.22},{"site":"Sitka","year":2022.4,"price":5.34},{"site":"Sitka","year":2022.7,"price":5.4},{"site":"Sitka","year":2022.95,"price":5.08},{"site":"Sitka","year":2023.3,"price":4.72},{"site":"Sitka","year":2023.55,"price":4.51},
{"site":"St Paul Island","year":1999.25,"price":1.0},{"site":"St Paul Island","year":1999.6,"price":1.15},{"site":"St Paul Island","year":1999.9,"price":1.22},{"site":"St Paul Island","year":2000.2,"price":1.51},{"site":"St Paul Island","year":2000.45,"price":1.43},{"site":"St Paul Island","year":2000.7,"price":1.65},{"site":"St Paul Island","year":2000.8,"price":1.15},{"site":"St Paul Island","year":2000.95,"price":1.68},{"site":"St Paul Island","year":2001.1,"price":1.53},{"site":"St Paul Island","year":2001.45,"price":1.51},
{"site":"Wrangell","year":2001.68,"price":1.35},{"site":"Wrangell","year":2002.04,"price":1.21},{"site":"Wrangell","year":2002.58,"price":1.17},{"site":"Wrangell","year":2003.0,"price":1.31},{"site":"Wrangell","year":2003.3,"price":1.5},{"site":"Wrangell","year":2003.5,"price":1.4},{"site":"Wrangell","year":2004.0,"price":1.42},{"site":"Wrangell","year":2004.4,"price":1.71},{"site":"Wrangell","year":2004.8,"price":1.86},{"site":"Wrangell","year":2005.0,"price":2.14},{"site":"Wrangell","year":2005.3,"price":2.0},{"site":"Wrangell","year":2005.45,"price":2.43},{"site":"Wrangell","year":2005.6,"price":2.32},{"site":"Wrangell","year":2005.8,"price":3.0},{"site":"Wrangell","year":2006.0,"price":2.83},{"site":"Wrangell","year":2006.2,"price":2.94},{"site":"Wrangell","year":2006.5,"price":3.08},{"site":"Wrangell","year":2006.7,"price":2.75},{"site":"Wrangell","year":2007.1,"price":2.83},{"site":"Wrangell","year":2007.4,"price":3.18},{"site":"Wrangell","year":2007.9,"price":3.29},{"site":"Wrangell","year":2008.15,"price":3.65},{"site":"Wrangell","year":2008.3,"price":4.16},{"site":"Wrangell","year":2008.5,"price":4.99},{"site":"Wrangell","year":2008.7,"price":5.02},{"site":"Wrangell","year":2008.95,"price":4.45},{"site":"Wrangell","year":2009.15,"price":3.58},{"site":"Wrangell","year":2009.4,"price":2.79},{"site":"Wrangell","year":2010.3,"price":2.75},{"site":"Wrangell","year":2010.5,"price":3.22},{"site":"Wrangell","year":2011.0,"price":3.22},{"site":"Wrangell","year":2011.2,"price":3.51},{"site":"Wrangell","year":2011.4,"price":4.01},{"site":"Wrangell","year":2012.1,"price":4.01},{"site":"Wrangell","year":2012.35,"price":4.19},{"site":"Wrangell","year":2012.65,"price":4.09},{"site":"Wrangell","year":2013.9,"price":4.09},{"site":"Wrangell","year":2014.0,"price":3.61},{"site":"Wrangell","year":2014.45,"price":3.61},{"site":"Wrangell","year":2014.6,"price":3.73},{"site":"Wrangell","year":2015.0,"price":3.7},{"site":"Wrangell","year":2015.25,"price":3.29},{"site":"Wrangell","year":2015.5,"price":3.15},{"site":"Wrangell","year":2015.8,"price":2.72},{"site":"Wrangell","year":2016.05,"price":2.22},{"site":"Wrangell","year":2016.4,"price":2.36},{"site":"Wrangell","year":2016.7,"price":2.65},{"site":"Wrangell","year":2016.95,"price":2.5},{"site":"Wrangell","year":2017.3,"price":2.65},{"site":"Wrangell","year":2017.7,"price":2.75},{"site":"Wrangell","year":2018.05,"price":2.79},{"site":"Wrangell","year":2018.4,"price":3.18},{"site":"Wrangell","year":2018.95,"price":3.15},{"site":"Wrangell","year":2019.5,"price":3.15},{"site":"Wrangell","year":2020.2,"price":3.22},{"site":"Wrangell","year":2020.4,"price":2.36},{"site":"Wrangell","year":2020.75,"price":2.36},{"site":"Wrangell","year":2021.1,"price":2.58},{"site":"Wrangell","year":2021.45,"price":2.86},{"site":"Wrangell","year":2021.8,"price":3.22},{"site":"Wrangell","year":2022.2,"price":3.87},{"site":"Wrangell","year":2022.35,"price":4.88},{"site":"Wrangell","year":2022.55,"price":5.6},{"site":"Wrangell","year":2022.8,"price":5.38},{"site":"Wrangell","year":2023.0,"price":5.31},{"site":"Wrangell","year":2023.25,"price":5.02},{"site":"Wrangell","year":2023.5,"price":4.66},
{"site":"Yakutat","year":2001.64,"price":1.45},{"site":"Yakutat","year":2002.0,"price":1.42},{"site":"Yakutat","year":2002.36,"price":1.31},{"site":"Yakutat","year":2002.6,"price":1.42},{"site":"Yakutat","year":2002.83,"price":1.97},{"site":"Yakutat","year":2002.9,"price":1.5},{"site":"Yakutat","year":2003.45,"price":1.54},{"site":"Yakutat","year":2003.8,"price":1.64},{"site":"Yakutat","year":2004.1,"price":1.64},{"site":"Yakutat","year":2004.28,"price":1.86},{"site":"Yakutat","year":2004.5,"price":2.14},{"site":"Yakutat","year":2004.9,"price":2.29},{"site":"Yakutat","year":2005.26,"price":2.5},{"site":"Yakutat","year":2005.5,"price":2.79},{"site":"Yakutat","year":2005.7,"price":3.08},{"site":"Yakutat","year":2006.17,"price":3.12},{"site":"Yakutat","year":2006.7,"price":3.18},{"site":"Yakutat","year":2007.07,"price":3.12},{"site":"Yakutat","year":2007.43,"price":3.29},{"site":"Yakutat","year":2007.8,"price":3.44},{"site":"Yakutat","year":2007.98,"price":3.65},{"site":"Yakutat","year":2008.15,"price":3.37},{"site":"Yakutat","year":2008.34,"price":4.95},{"site":"Yakutat","year":2008.6,"price":5.42},{"site":"Yakutat","year":2008.78,"price":4.95},{"site":"Yakutat","year":2008.96,"price":5.09},{"site":"Yakutat","year":2009.14,"price":4.88},{"site":"Yakutat","year":2009.3,"price":3.22},{"site":"Yakutat","year":2009.8,"price":3.29},{"site":"Yakutat","year":2010.08,"price":3.47},{"site":"Yakutat","year":2010.33,"price":3.37},{"site":"Yakutat","year":2010.7,"price":3.55},{"site":"Yakutat","year":2011.06,"price":3.61},{"site":"Yakutat","year":2011.24,"price":3.8},{"site":"Yakutat","year":2011.35,"price":4.52},{"site":"Yakutat","year":2011.6,"price":4.59},{"site":"Yakutat","year":2011.78,"price":4.81},{"site":"Yakutat","year":2012.14,"price":4.88},{"site":"Yakutat","year":2012.4,"price":5.17},{"site":"Yakutat","year":2012.76,"price":5.28},{"site":"Yakutat","year":2012.98,"price":5.14},{"site":"Yakutat","year":2013.23,"price":5.24},{"site":"Yakutat","year":2013.49,"price":4.95},{"site":"Yakutat","year":2013.96,"price":4.91},{"site":"Yakutat","year":2014.5,"price":4.99},{"site":"Yakutat","year":2014.86,"price":5.17},{"site":"Yakutat","year":2015.04,"price":5.02},{"site":"Yakutat","year":2015.22,"price":3.87},{"site":"Yakutat","year":2015.5,"price":3.73},{"site":"Yakutat","year":2015.77,"price":4.19},{"site":"Yakutat","year":2015.95,"price":3.65},{"site":"Yakutat","year":2016.24,"price":3.51},{"site":"Yakutat","year":2016.38,"price":2.5},{"site":"Yakutat","year":2016.5,"price":2.65},{"site":"Yakutat","year":2017.04,"price":2.58},{"site":"Yakutat","year":2017.22,"price":2.65},{"site":"Yakutat","year":2017.4,"price":3.29},{"site":"Yakutat","year":2017.5,"price":3.87},{"site":"Yakutat","year":2017.69,"price":2.94},{"site":"Yakutat","year":2017.94,"price":3.22},{"site":"Yakutat","year":2018.2,"price":3.61},{"site":"Yakutat","year":2018.41,"price":3.15},{"site":"Yakutat","year":2018.78,"price":3.87},{"site":"Yakutat","year":2019.21,"price":3.61},{"site":"Yakutat","year":2019.57,"price":3.73},{"site":"Yakutat","year":2019.93,"price":3.61},{"site":"Yakutat","year":2020.22,"price":3.87},{"site":"Yakutat","year":2020.37,"price":3.58},{"site":"Yakutat","year":2020.59,"price":4.3},{"site":"Yakutat","year":2020.73,"price":3.08},{"site":"Yakutat","year":2020.88,"price":2.86},{"site":"Yakutat","year":2021.2,"price":2.86},{"site":"Yakutat","year":2021.31,"price":4.01},{"site":"Yakutat","year":2021.46,"price":3.22},{"site":"Yakutat","year":2021.64,"price":4.37},{"site":"Yakutat","year":2021.82,"price":3.44},{"site":"Yakutat","year":2022.0,"price":4.66},{"site":"Yakutat","year":2022.22,"price":4.52},{"site":"Yakutat","year":2022.47,"price":5.88},{"site":"Yakutat","year":2022.76,"price":6.14},{"site":"Yakutat","year":2023.11,"price":6.14},{"site":"Yakutat","year":2023.26,"price":5.81},{"site":"Yakutat","year":2023.55,"price":5.53}
]},
"hconcat": [
 {
  "title": {"text": "Cash Prices for #2 Marine Diesel ($/gallon)", "orient": "left", "anchor": "middle", "font": "Liberation Sans", "fontSize": 35, "fontWeight": "bold", "color": "black", "offset": 10},
  "data": {"name": "d"},
  "transform": [{"filter": {"field": "site", "oneOf": ["Adak", "Akutan", "Homer", "Juneau", "Petersburg", "Sand Point", "Wrangell", "Yakutat"]}}],
  "facet": {"field": "site", "type": "nominal",
    "header": {"title": null, "labelFont": "Liberation Sans", "labelFontSize": 36, "labelColor": "black", "labelPadding": 10}},
  "columns": 2,
  "spacing": {"column": 14, "row": 31},
  "spec": {
    "width": 346, "height": 155,
    "mark": {"type": "line", "color": "#3d6f91", "strokeWidth": 2.3, "clip": true},
    "encoding": {
      "x": {"field": "year", "type": "quantitative", "scale": {"domain": [1999.18, 2023.57], "nice": false, "zero": false},
        "axis": {"values": [2007, 2015, 2023], "format": "d", "title": null, "grid": false, "domain": false, "tickSize": 4, "tickWidth": 1.5, "tickColor": "#333333", "labelFont": "Liberation Sans", "labelFontSize": 33, "labelColor": "black", "labelPadding": 12, "labelFlush": false, "labelOverlap": false, "labelBound": false,
          "labelOffset": {"condition": {"test": "datum.value == 2023", "value": -14}, "value": 0}}},
      "y": {"field": "price", "type": "quantitative", "scale": {"domain": [0.53, 7.2], "nice": false, "zero": false},
        "axis": {"values": [2, 4, 6], "title": null, "grid": false, "domain": false, "tickSize": 5, "tickWidth": 1.5, "tickColor": "#333333", "labelFont": "Liberation Sans", "labelFontSize": 33, "labelColor": "black", "labelPadding": 8, "labelOverlap": false, "labelBound": false}}
    }
  }
 },
 {
  "data": {"name": "d"},
  "transform": [{"filter": {"field": "site", "oneOf": ["Cordova", "Dillingham", "Dutch Harbor", "Ketchikan", "Kodiak", "Naknek", "Seward", "Sitka", "St Paul Island"]}}],
  "facet": {"field": "site", "type": "nominal",
    "header": {"title": null, "labelFont": "Liberation Sans", "labelFontSize": 36, "labelColor": "black", "labelPadding": 10}},
  "columns": 3,
  "spacing": {"column": 14, "row": 31},
  "spec": {
    "width": 346, "height": 155,
    "mark": {"type": "line", "color": "#3d6f91", "strokeWidth": 2.3, "clip": true},
    "encoding": {
      "x": {"field": "year", "type": "quantitative", "scale": {"domain": [1999.18, 2023.57], "nice": false, "zero": false},
        "axis": {"values": [2007, 2015, 2023], "format": "d", "title": null, "grid": false, "domain": false, "tickSize": 4, "tickWidth": 1.5, "tickColor": "#333333", "labelFont": "Liberation Sans", "labelFontSize": 33, "labelColor": "black", "labelPadding": 12, "labelFlush": false, "labelOverlap": false, "labelBound": false}},
      "y": {"field": "price", "type": "quantitative", "scale": {"domain": [0.53, 7.2], "nice": false, "zero": false}, "axis": null}
    }
  }
 }
],
"spacing": 0,
"config": {"view": {"stroke": "#333333", "strokeWidth": 1.5}}
}
